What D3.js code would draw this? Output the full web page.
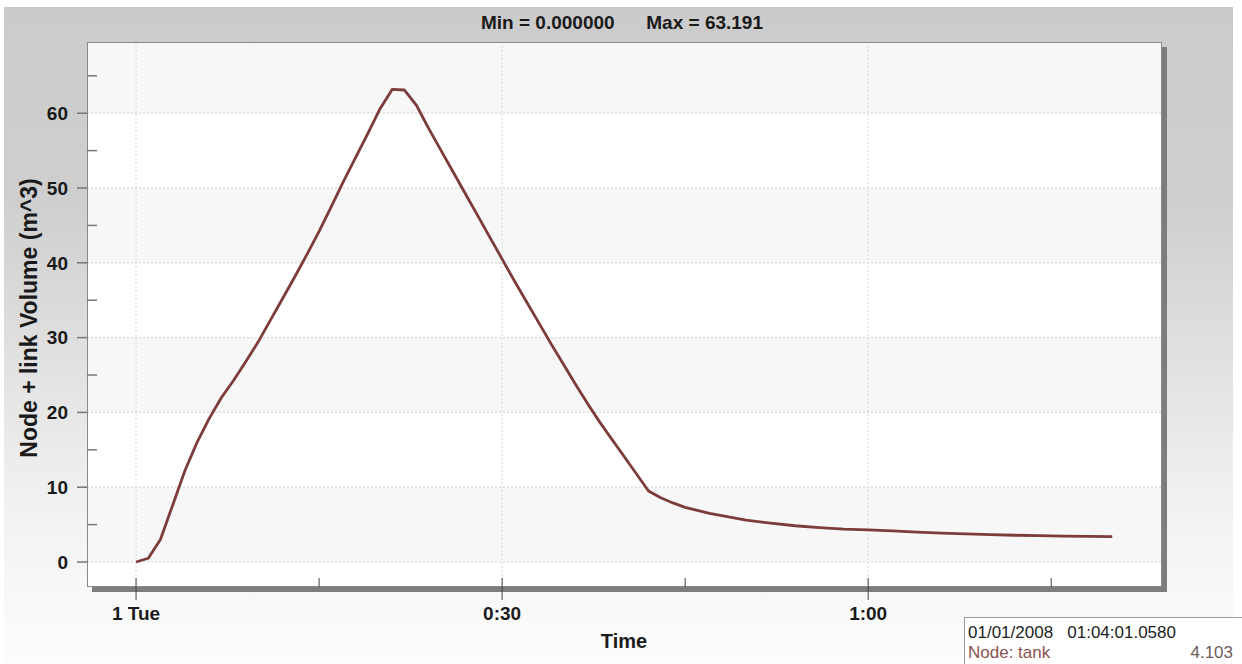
<!DOCTYPE html>
<html><head><meta charset="utf-8">
<script src="https://cdn.jsdelivr.net/npm/d3@7/dist/d3.min.js"></script>
<style>body{margin:0;background:#fff;}svg{display:block;font-family:"Liberation Sans",Arial,sans-serif;}</style>
</head><body>
<script>
// Data (time in minutes since 1 Tue 00:00, volume in m^3)
const times = [0,1,2,3,4,5,6,7,8,9,10,11,12,13,14,15,16,17,18,19,20,21,22,23,24,25,26,27,28,29,30,31,32,33,34,35,36,37,38,39,40,41,42,43,44,45,46,47,48,49,50,52,54,56,58,60,62,64,66,68,70,72,74,76,78,80];
const volumes = [0,0.5,3.0,7.6,12.2,16.0,19.2,22.0,24.3,26.8,29.4,32.3,35.2,38.1,41.1,44.2,47.5,50.9,54.1,57.3,60.6,63.2,63.1,61.0,57.9,55.0,52.1,49.2,46.3,43.4,40.5,37.6,34.8,32.0,29.2,26.5,23.8,21.2,18.7,16.4,14.1,11.8,9.5,8.6,7.9,7.3,6.9,6.5,6.2,5.9,5.6,5.2,4.85,4.6,4.4,4.3,4.15,4.0,3.85,3.75,3.65,3.58,3.52,3.47,3.43,3.4];
const yMajorTicks = [0,10,20,30,40,50,60];
const yMinorTicks = [5,15,25,35,45,55,65];
const xMajorTicks = [0,30,60];
const xMajorLabels = ["1 Tue","0:30","1:00"];
const xMinorTicks = [15,45,75];
const titleText = "Min = 0.000000      Max = 63.191";
const yLabel = "Node + link Volume (m^3)";
const xLabel = "Time";
const infoLine1 = "01/01/2008   01:04:01.0580";
const infoName = "Node: tank";
const infoValue = "4.103";

const W = 1242, H = 664;
const L = 87, T = 42, R = 1162, B = 587;
const svg = d3.select("body").append("svg").attr("width", W).attr("height", H);
const defs = svg.append("defs");
const g = defs.append("linearGradient").attr("id","bg").attr("x1",0).attr("y1",0).attr("x2",0).attr("y2",1);
g.append("stop").attr("offset","0").attr("stop-color","#cbcbcb");
g.append("stop").attr("offset","0.3").attr("stop-color","#cfcfcf");
g.append("stop").attr("offset","0.75").attr("stop-color","#f1f1f1");
g.append("stop").attr("offset","1").attr("stop-color","#fdfdfd");
svg.append("rect").attr("x",4).attr("y",7).attr("width",1229).attr("height",H-7).attr("fill","url(#bg)");

const x = d3.scaleLinear().domain([-4.02, 84.08]).range([L, R]);
const y = d3.scaleLinear().domain([-3.34, 69.52]).range([B, T]);

// shadow
svg.append("rect").attr("x",L+5).attr("y",T+5).attr("width",R-L).attr("height",B-T).attr("fill","#7d7d7d");
// plot background
svg.append("rect").attr("x",L).attr("y",T).attr("width",R-L).attr("height",B-T).attr("fill","#ffffff");
// bands
const bandEdges = [0,10,20,30,40,50,60];
bandEdges.forEach((v,i)=>{
  if (i % 2 === 0) {
    const top = (v === 60) ? y.domain()[1] : v + 10;
    svg.append("rect").attr("x",L).attr("width",R-L)
      .attr("y", y(top)).attr("height", y(v)-y(top)).attr("fill","#f7f7f7");
  }
});
// grid
svg.append("g").selectAll("line").data(yMajorTicks).join("line")
  .attr("x1",L).attr("x2",R).attr("y1",d=>y(d)).attr("y2",d=>y(d))
  .attr("stroke","#d6d6d6").attr("stroke-width",1.2).attr("stroke-dasharray","2,2");
svg.append("g").selectAll("line").data(xMajorTicks).join("line")
  .attr("x1",d=>x(d)).attr("x2",d=>x(d)).attr("y1",T).attr("y2",B)
  .attr("stroke","#d9d9d9").attr("stroke-width",1).attr("stroke-dasharray","2,2");
// border
svg.append("rect").attr("x",L+0.5).attr("y",T+0.5).attr("width",R-L-1).attr("height",B-T-1)
  .attr("fill","none").attr("stroke","#8a8a8a").attr("stroke-width",1);

// y axis ticks
svg.append("g").selectAll("line").data(yMajorTicks).join("line")
  .attr("x1",L-10).attr("x2",L).attr("y1",d=>y(d)).attr("y2",d=>y(d))
  .attr("stroke","#777").attr("stroke-width",1.5);
svg.append("g").selectAll("line").data(yMinorTicks).join("line")
  .attr("x1",L).attr("x2",L+10).attr("y1",d=>y(d)).attr("y2",d=>y(d))
  .attr("stroke","#777").attr("stroke-width",1.5);
svg.append("g").selectAll("text").data(yMajorTicks).join("text")
  .attr("x",L-19).attr("y",d=>y(d)+6.8).attr("text-anchor","end")
  .attr("font-size",19).attr("font-weight","bold").attr("fill","#1a1a1a").text(d=>d);

// x axis ticks
svg.append("g").selectAll("line").data(xMajorTicks).join("line")
  .attr("x1",d=>x(d)).attr("x2",d=>x(d)).attr("y1",B-9).attr("y2",B+13)
  .attr("stroke","#444").attr("stroke-width",1);
svg.append("g").selectAll("line").data(xMinorTicks).join("line")
  .attr("x1",d=>x(d)).attr("x2",d=>x(d)).attr("y1",B-9).attr("y2",B)
  .attr("stroke","#444").attr("stroke-width",1);
svg.append("g").selectAll("text").data(xMajorTicks).join("text")
  .attr("x",d=>x(d)).attr("y",B+33).attr("text-anchor","middle")
  .attr("font-size",19).attr("font-weight","bold").attr("fill","#1a1a1a").text((d,i)=>xMajorLabels[i]);

// line
const line = d3.line().x((d,i)=>x(times[i])).y(d=>y(d));
svg.append("path").datum(volumes).attr("d",line).attr("fill","none")
  .attr("stroke","#7d3c3c").attr("stroke-width",2.8).attr("stroke-linejoin","round");

// title & labels
svg.append("text").attr("x",622).attr("y",29).attr("text-anchor","middle")
  .attr("font-size",19).attr("font-weight","bold").attr("fill","#1a1a1a")
  .style("white-space","pre").text(titleText);
svg.append("text").attr("transform","translate(37,318) rotate(-90)").attr("text-anchor","middle")
  .attr("font-size",23).attr("font-weight","bold").attr("fill","#1a1a1a").text(yLabel);
svg.append("text").attr("x",624).attr("y",648).attr("text-anchor","middle")
  .attr("font-size",20).attr("font-weight","bold").attr("fill","#1a1a1a").text(xLabel);

// info box
svg.append("rect").attr("x",964.5).attr("y",617.5).attr("width",300).attr("height",60)
  .attr("fill","#ffffff").attr("stroke","#999").attr("stroke-width",1);
svg.append("text").attr("x",968).attr("y",638).attr("font-size",17).attr("fill","#222")
  .style("white-space","pre").text(infoLine1);
svg.append("text").attr("x",968).attr("y",658).attr("font-size",17).attr("fill","#8a5252").text(infoName);
svg.append("text").attr("x",1233).attr("y",658).attr("text-anchor","end").attr("font-size",17).attr("fill","#6f5c5c").text(infoValue);
</script>
</body></html>
